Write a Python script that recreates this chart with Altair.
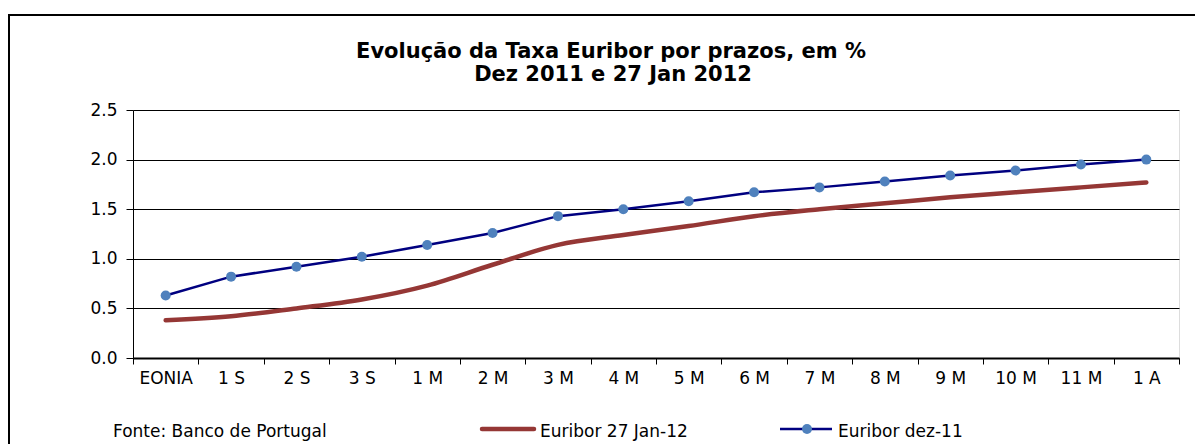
import altair as alt
import pandas as pd

categories = ["EONIA", "1 S", "2 S", "3 S", "1 M", "2 M", "3 M", "4 M",
              "5 M", "6 M", "7 M", "8 M", "9 M", "10 M", "11 M", "1 A"]
series_names = ["Euribor 27 Jan-12", "Euribor dez-11"]
jan12 = [0.38, 0.42, 0.50, 0.59, 0.73, 0.94, 1.14, 1.24,
         1.33, 1.43, 1.50, 1.56, 1.62, 1.67, 1.72, 1.77]
dez11 = [0.63, 0.82, 0.92, 1.02, 1.14, 1.26, 1.43, 1.50,
         1.58, 1.67, 1.72, 1.78, 1.84, 1.89, 1.95, 2.00]
y_ticks = [0.0, 0.5, 1.0, 1.5, 2.0, 2.5]
title_lines = ["Evolução da Taxa Euribor por prazos, em %", "Dez 2011 e 27 Jan 2012"]
source_note = "Fonte: Banco de Portugal"

FONT = "DejaVu Sans"
RED = "#953735"
NAVY = "#000080"
MARKER = "#4F81BD"

W, H = 1046, 248

df_jan = pd.DataFrame({"prazo": categories, "taxa": jan12})
df_dez = pd.DataFrame({"prazo": categories, "taxa": dez11})

x_enc = alt.X(
    "prazo:N", sort=categories, title=None,
    scale=alt.Scale(paddingInner=0, paddingOuter=0),
    axis=alt.Axis(labelAngle=0, tickBand="extent", tickSize=6, tickColor="black",
                  domainColor="black", domainWidth=2, labelFont=FONT, labelFontSize=17,
                  labelColor="black", labelPadding=6, grid=False),
)
y_enc = alt.Y(
    "taxa:Q", title=None,
    scale=alt.Scale(domain=[0, 2.5], nice=False),
    axis=alt.Axis(values=y_ticks, format=".1f", tickSize=7, tickColor="black",
                  domainColor="black", labelFont=FONT, labelFontSize=17,
                  labelColor="black", labelPadding=9, grid=True, gridColor="black",
                  gridWidth=1),
)

red_line = alt.Chart(df_jan).mark_line(
    color=RED, strokeWidth=4.5, interpolate="monotone", strokeCap="round"
).encode(x=x_enc, y=y_enc)

blue_line = alt.Chart(df_dez).mark_line(
    color=NAVY, strokeWidth=2.5
).encode(x=x_enc, y=y_enc)

blue_pts = alt.Chart(df_dez).mark_point(
    filled=True, color=MARKER, size=100, opacity=1, shape="circle"
).encode(x=x_enc, y=y_enc)

one = pd.DataFrame({"a": [0]})

border = alt.Chart(one).mark_rect(
    filled=False, stroke="black", strokeWidth=2
).encode(x=alt.value(-124), x2=alt.value(1200), y=alt.value(-95), y2=alt.value(420))

title1 = alt.Chart(pd.DataFrame({"t": [title_lines[0]]})).mark_text(
    font=FONT, fontSize=21, fontWeight="bold", align="center", baseline="alphabetic",
    color="black"
).encode(x=alt.value(478), y=alt.value(-52), text="t:N")
title2 = alt.Chart(pd.DataFrame({"t": [title_lines[1]]})).mark_text(
    font=FONT, fontSize=21, fontWeight="bold", align="center", baseline="alphabetic",
    color="black"
).encode(x=alt.value(480), y=alt.value(-29), text="t:N")

note = alt.Chart(pd.DataFrame({"t": [source_note]})).mark_text(
    font=FONT, fontSize=17, align="left", baseline="alphabetic", color="black"
).encode(x=alt.value(-20), y=alt.value(327), text="t:N")

leg_red_line = alt.Chart(one).mark_rule(
    color=RED, strokeWidth=4.5, strokeCap="round"
).encode(x=alt.value(349), x2=alt.value(401), y=alt.value(319))
leg_red_txt = alt.Chart(pd.DataFrame({"t": [series_names[0]]})).mark_text(
    font=FONT, fontSize=17, align="left", baseline="alphabetic", color="black"
).encode(x=alt.value(407), y=alt.value(327), text="t:N")

leg_blue_line = alt.Chart(one).mark_rule(
    color=NAVY, strokeWidth=2.5
).encode(x=alt.value(647), x2=alt.value(699), y=alt.value(319))
leg_blue_pt = alt.Chart(one).mark_point(
    filled=True, color=MARKER, size=100, opacity=1, shape="circle"
).encode(x=alt.value(674), y=alt.value(319))
leg_blue_txt = alt.Chart(pd.DataFrame({"t": [series_names[1]]})).mark_text(
    font=FONT, fontSize=17, align="left", baseline="alphabetic", color="black"
).encode(x=alt.value(705), y=alt.value(327), text="t:N")

chart = alt.layer(
    border, title1, title2, red_line, blue_line, blue_pts, note,
    leg_red_line, leg_red_txt, leg_blue_line, leg_blue_pt, leg_blue_txt
).properties(
    width=W, height=H,
    autosize=alt.AutoSizeParams(type="none"),
    padding={"left": 125, "top": 102, "right": 16, "bottom": 86},
).configure_view(stroke="black", strokeWidth=1).configure(background="white")

chart.save("out.html", embed_options={"renderer": "svg", "actions": False})
